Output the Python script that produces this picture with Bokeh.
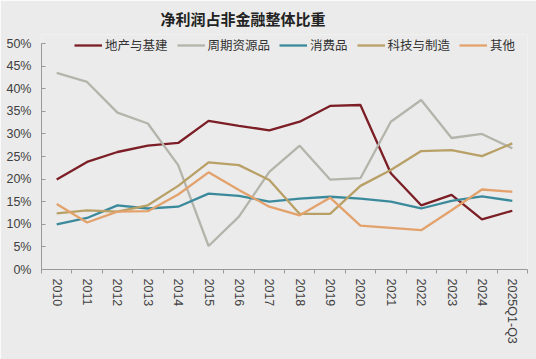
from bokeh.plotting import figure
from bokeh.models import Range1d, FixedTicker, NumeralTickFormatter, Legend, LegendItem
from bokeh.embed import file_html
from bokeh.resources import INLINE

categories = ["2010", "2011", "2012", "2013", "2014", "2015", "2016", "2017", "2018",
              "2019", "2020", "2021", "2022", "2023", "2024", "2025Q1-Q3"]
realty_infra = [19.9, 23.8, 26.0, 27.4, 28.0, 32.9, 31.8, 30.8, 32.7, 36.2, 36.4, 21.3, 14.2, 16.5, 11.1, 13.0]
cyclical = [43.5, 41.5, 34.7, 32.3, 23.1, 5.2, 11.7, 21.6, 27.4, 19.9, 20.2, 32.7, 37.5, 29.1, 30.0, 26.8]
consumer = [10.0, 11.4, 14.2, 13.5, 13.9, 16.8, 16.3, 15.0, 15.7, 16.1, 15.7, 15.0, 13.5, 15.2, 16.2, 15.2]
tech_mfg = [12.4, 13.1, 12.8, 14.2, 18.5, 23.7, 23.1, 19.8, 12.3, 12.3, 18.5, 22.0, 26.2, 26.4, 25.1, 27.9]
other = [14.5, 10.4, 12.8, 12.9, 16.6, 21.5, 17.6, 13.9, 12.0, 15.9, 9.7, 9.2, 8.7, 13.1, 17.7, 17.2]

series_names = ["地产与基建", "周期资源品", "消费品", "科技与制造", "其他"]
series_values = [realty_infra, cyclical, consumer, tech_mfg, other]
series_colors = ["#7b1e25", "#b4b4ab", "#3b8a9b", "#b8a066", "#e3a26c"]
title_text = "净利润占非金融整体比重"
y_ticks = [i * 0.05 for i in range(11)]

bg = "#ebebeb"
cjk = "Noto Sans CJK SC"
latin = "Liberation Sans"

p = figure(width=536, height=359, output_backend="svg", toolbar_location=None,
           x_range=Range1d(0, len(categories)), y_range=Range1d(0, 0.52),
           min_border_left=41, min_border_right=9, min_border_top=34, min_border_bottom=90,
           background_fill_color=bg, border_fill_color=bg, outline_line_color=None)

p.title.text = title_text
p.title.text_font = cjk
p.title.text_font_size = "15px"
p.title.text_font_style = "bold"
p.title.text_color = "#222222"
p.title.align = "left"
p.title.offset = 119
p.title.standoff = 11

xs = [i + 0.5 for i in range(len(categories))]
items = []
for name, vals, col in zip(series_names, series_values, series_colors):
    r = p.line(xs, [v / 100 for v in vals], line_color=col, line_width=2.3)
    items.append(LegendItem(label=name, renderers=[r]))

legend = Legend(items=items, orientation="horizontal", location=(33, 215),
                label_text_font=cjk, label_text_font_size="12.5px", label_text_color="#333333",
                glyph_width=28, glyph_height=16, label_height=16, label_standoff=3,
                spacing=9, padding=0, margin=0,
                background_fill_alpha=0, border_line_alpha=0)
p.add_layout(legend)

p.xgrid.visible = False
p.ygrid.visible = False

p.xaxis.ticker = FixedTicker(ticks=xs, minor_ticks=list(range(len(categories) + 1)))
p.xaxis.major_label_overrides = {x: c for x, c in zip(xs, categories)}
p.xaxis.major_label_orientation = "vertical"
p.xaxis.major_tick_out = 0
p.xaxis.major_tick_in = 0
p.xaxis.minor_tick_out = 4
p.xaxis.minor_tick_in = 0
p.xaxis.minor_tick_line_color = "#999999"
p.xaxis.axis_line_color = "#999999"
p.xaxis.major_label_standoff = 5
p.xaxis.major_label_text_font = latin
p.xaxis.major_label_text_font_size = "12.5px"
p.xaxis.major_label_text_color = "#404040"

p.yaxis.ticker = FixedTicker(ticks=y_ticks, minor_ticks=[])
p.yaxis.bounds = (0, 0.5)
p.yaxis.formatter = NumeralTickFormatter(format="0%")
p.yaxis.major_tick_in = 4
p.yaxis.major_tick_out = 0
p.yaxis.major_tick_line_color = "#999999"
p.yaxis.axis_line_color = "#999999"
p.yaxis.major_label_standoff = 10
p.yaxis.major_label_text_font = latin
p.yaxis.major_label_text_font_size = "12.5px"
p.yaxis.major_label_text_color = "#404040"

open("out.html", "w").write(file_html(p, INLINE))
